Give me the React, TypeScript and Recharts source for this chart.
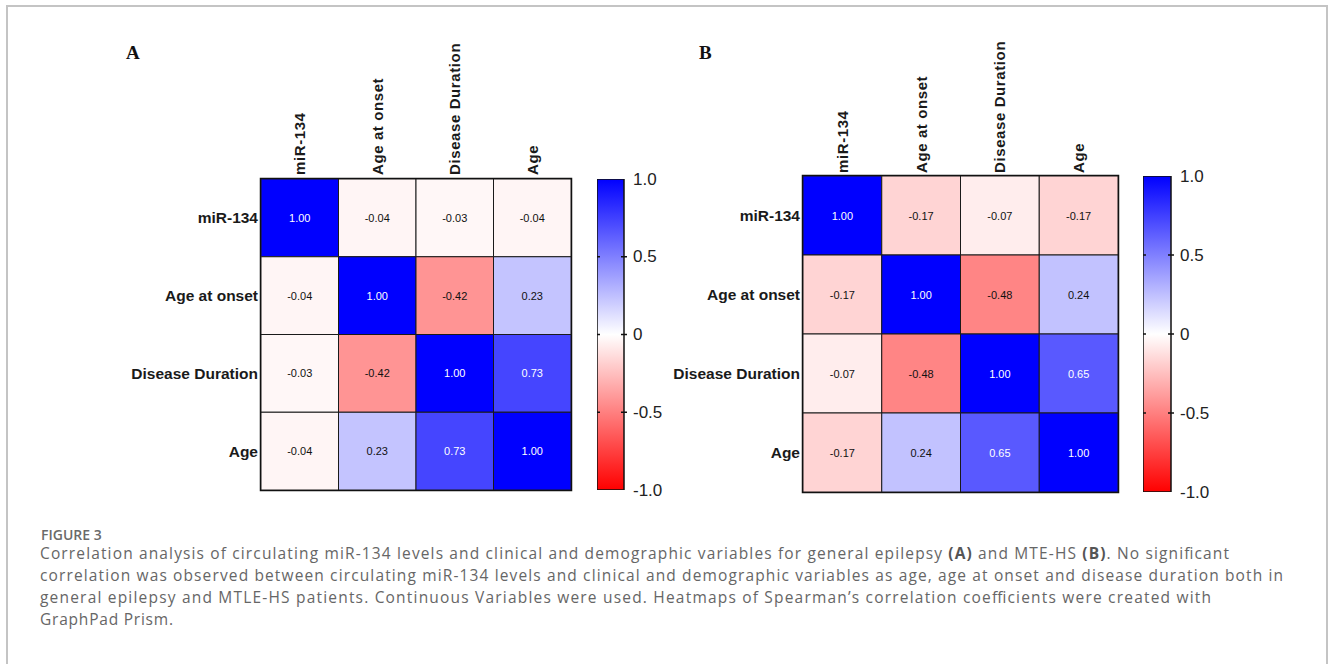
import React from "react";
import {
  ScatterChart,
  Scatter,
  XAxis,
  YAxis,
  ReferenceArea,
  BarChart,
  Bar,
} from "recharts";

// ---------- data ----------
const variables = ["miR-134", "Age at onset", "Disease Duration", "Age"];

const epilepsyMiR134 = [1.0, -0.04, -0.03, -0.04];
const epilepsyAgeOnset = [-0.04, 1.0, -0.42, 0.23];
const epilepsyDuration = [-0.03, -0.42, 1.0, 0.73];
const epilepsyAge = [-0.04, 0.23, 0.73, 1.0];

const mtleMiR134 = [1.0, -0.17, -0.07, -0.17];
const mtleAgeOnset = [-0.17, 1.0, -0.48, 0.24];
const mtleDuration = [-0.07, -0.48, 1.0, 0.65];
const mtleAge = [-0.17, 0.24, 0.65, 1.0];

const colorTicks = [-1, -0.5, 0, 0.5, 1];
const colorTickLabels = ["-1.0", "-0.5", "0", "0.5", "1.0"];

const panelLetters = ["A", "B"];
const figureLabel = "FIGURE 3";

// ---------- helpers ----------
const SANS = "'Liberation Sans', Arial, Helvetica, sans-serif";

function colorFor(v: number): string {
  if (v >= 0) {
    const c = Math.round(255 * (1 - v));
    return `rgb(${c},${c},255)`;
  }
  const c = Math.round(255 * (1 + v));
  return `rgb(255,${c},${c})`;
}

const cellTicks = [0.5, 1.5, 2.5, 3.5];

function buildData(rows: number[][]) {
  const out: { x: number; y: number; v: number }[] = [];
  rows.forEach((row, r) => {
    row.forEach((v, c) => {
      out.push({ x: c + 0.5, y: r + 0.5, v });
    });
  });
  return out;
}

const ColTick = (props: any) => {
  const { x, y, payload, gap } = props;
  const label = variables[Math.floor(payload.value)];
  const ty = y - gap;
  return (
    <text
      x={x}
      y={ty}
      transform={`rotate(-90 ${x} ${ty})`}
      textAnchor="start"
      dominantBaseline="central"
      fontFamily={SANS}
      fontWeight="bold"
      fontSize={15}
      fill="#1a1a1a"
      letterSpacing={0.6}
    >
      {label}
    </text>
  );
};

const RowTick = (props: any) => {
  const { x, y, payload } = props;
  const label = variables[Math.floor(payload.value)];
  return (
    <text
      x={x - 3}
      y={y}
      textAnchor="end"
      dominantBaseline="central"
      fontFamily={SANS}
      fontWeight="bold"
      fontSize={15.5}
      fill="#1a1a1a"
    >
      {label}
    </text>
  );
};

function Heatmap(props: {
  rows: number[][];
  gx: number;
  gy: number;
  gw: number;
  gh: number;
  gap: number;
}) {
  const { rows, gx, gy, gw, gh, gap } = props;
  const axisW = 160;
  const axisH = 160;
  const data = buildData(rows);
  const cw = gw / 4;
  const ch = gh / 4;
  const shape = (p: any) => {
    const { cx, cy, payload } = p;
    const v = payload.v as number;
    return (
      <g>
        <rect
          x={cx - cw / 2}
          y={cy - ch / 2}
          width={cw}
          height={ch}
          fill={colorFor(v)}
          stroke="#1a1a1a"
          strokeWidth={1}
        />
        <text
          x={cx}
          y={cy}
          textAnchor="middle"
          dominantBaseline="central"
          fontFamily={SANS}
          fontSize={11}
          fill={v > 0.5 ? "#ffffff" : "#111111"}
        >
          {v.toFixed(2)}
        </text>
      </g>
    );
  };
  return (
    <div style={{ position: "absolute", left: gx - axisW, top: gy - axisH }}>
      <ScatterChart
        width={axisW + gw + 6}
        height={axisH + gh + 6}
        margin={{ top: 0, left: 0, right: 6, bottom: 6 }}
      >
        <XAxis
          type="number"
          dataKey="x"
          domain={[0, 4]}
          ticks={cellTicks}
          orientation="top"
          height={axisH}
          axisLine={false}
          tickLine={false}
          tickSize={0}
          tickMargin={0}
          interval={0}
          allowDataOverflow
          tick={<ColTick gap={gap} />}
        />
        <YAxis
          type="number"
          dataKey="y"
          domain={[0, 4]}
          reversed
          ticks={cellTicks}
          width={axisW}
          axisLine={false}
          tickLine={false}
          tickSize={0}
          tickMargin={0}
          interval={0}
          allowDataOverflow
          tick={<RowTick />}
        />
        <Scatter data={data} isAnimationActive={false} shape={shape} />
        <ReferenceArea
          x1={0}
          x2={4}
          y1={0}
          y2={4}
          fill="none"
          fillOpacity={0}
          stroke="#111"
          strokeWidth={2.5}
          strokeOpacity={1}
          ifOverflow="visible"
        />
      </ScatterChart>
    </div>
  );
}

const BarTick = (props: any) => {
  const { x, y, payload, bw } = props;
  const idx = colorTicks.indexOf(payload.value);
  const label = colorTickLabels[idx];
  const inner = payload.value !== -1 && payload.value !== 1;
  return (
    <g>
      {inner && (
        <line x1={x - bw - 3} x2={x - bw + 3} y1={y} y2={y} stroke="#111" strokeWidth={1.5} />
      )}
      {inner && <line x1={x - 3} x2={x + 3} y1={y} y2={y} stroke="#111" strokeWidth={1.5} />}
      <text
        x={x + 9}
        y={y}
        dominantBaseline="central"
        fontFamily={SANS}
        fontSize={17}
        fill="#222"
      >
        {label}
      </text>
    </g>
  );
};

function ColorBar(props: { bx: number; by: number; bw: number; bh: number; id: string }) {
  const { bx, by, bw, bh, id } = props;
  const mt = 12;
  const mb = 12;
  const rightW = 60;
  const barData = [{ name: "scale", range: [colorTicks[0], colorTicks[colorTicks.length - 1]] }];
  return (
    <div style={{ position: "absolute", left: bx, top: by - mt }}>
      <BarChart
        width={bw + rightW}
        height={bh + mt + mb}
        data={barData}
        margin={{ top: mt, bottom: mb, left: 0, right: 0 }}
        barCategoryGap={0}
        barGap={0}
      >
        <defs>
          <linearGradient id={id} x1="0" y1="0" x2="0" y2="1">
            <stop offset="0%" stopColor="#0000ff" />
            <stop offset="50%" stopColor="#ffffff" />
            <stop offset="100%" stopColor="#ff0000" />
          </linearGradient>
        </defs>
        <XAxis dataKey="name" hide />
        <YAxis
          type="number"
          orientation="right"
          width={rightW}
          domain={[-1, 1]}
          ticks={colorTicks}
          axisLine={false}
          tickLine={false}
          tickSize={0}
          tickMargin={0}
          interval={0}
          allowDataOverflow
          tick={<BarTick bw={bw} />}
        />
        <Bar
          dataKey="range"
          fill={`url(#${id})`}
          stroke="#111"
          strokeWidth={1.5}
          isAnimationActive={false}
        />
      </BarChart>
    </div>
  );
}

const CAPTION_FONT = "'Open Sans', 'Noto Sans', sans-serif";

export default function App() {
  return (
    <div
      style={{
        position: "absolute",
        left: 0,
        top: 0,
        width: 1330,
        height: 664,
        overflow: "hidden",
        background: "#fff",
      }}
    >
      <div
        style={{
          position: "absolute",
          left: 6,
          top: 5,
          width: 1322,
          height: 720,
          border: "2px solid #c4c4c4",
          boxSizing: "border-box",
        }}
      />
      <Heatmap
        rows={[epilepsyMiR134, epilepsyAgeOnset, epilepsyDuration, epilepsyAge]}
        gx={261}
        gy={179}
        gw={310}
        gh={311}
        gap={4}
      />
      <ColorBar bx={597} by={179} bw={27} bh={311} id="gradA" />
      <Heatmap
        rows={[mtleMiR134, mtleAgeOnset, mtleDuration, mtleAge]}
        gx={803}
        gy={176}
        gw={315}
        gh={316}
        gap={3}
      />
      <ColorBar bx={1143} by={176} bw={28} bh={316} id="gradB" />
      <svg
        width={1330}
        height={664}
        style={{ position: "absolute", left: 0, top: 0, pointerEvents: "none" }}
      >
        <text
          x={126}
          y={59}
          fontFamily="'Liberation Serif', 'Times New Roman', serif"
          fontWeight="bold"
          fontSize={19}
          fill="#111"
        >
          {panelLetters[0]}
        </text>
        <text
          x={699}
          y={59}
          fontFamily="'Liberation Serif', 'Times New Roman', serif"
          fontWeight="bold"
          fontSize={19}
          fill="#111"
        >
          {panelLetters[1]}
        </text>
        <text x={41} y={540} fontFamily={CAPTION_FONT} fontWeight={600} fontSize={14} fill="#6a6a6a">
          {figureLabel}
        </text>
        <text
          x={40}
          y={559}
          fontFamily={CAPTION_FONT}
          fontSize={15.5}
          fill="#666"
          textLength={1189}
          lengthAdjust="spacing"
        >
          Correlation analysis of circulating miR-134 levels and clinical and demographic variables for general epilepsy{" "}
          <tspan fontWeight="bold" fill="#555">(A)</tspan> and MTE-HS{" "}
          <tspan fontWeight="bold" fill="#555">(B)</tspan>. No significant
        </text>
        <text
          x={40}
          y={581}
          fontFamily={CAPTION_FONT}
          fontSize={15.5}
          fill="#666"
          textLength={1243}
          lengthAdjust="spacing"
        >
          correlation was observed between circulating miR-134 levels and clinical and demographic variables as age, age at onset and disease duration both in
        </text>
        <text
          x={40}
          y={603}
          fontFamily={CAPTION_FONT}
          fontSize={15.5}
          fill="#666"
          textLength={1171}
          lengthAdjust="spacing"
        >
          general epilepsy and MTLE-HS patients. Continuous Variables were used. Heatmaps of Spearman’s correlation coefficients were created with
        </text>
        <text
          x={40}
          y={625}
          fontFamily={CAPTION_FONT}
          fontSize={15.5}
          fill="#666"
          textLength={133}
          lengthAdjust="spacing"
        >
          GraphPad Prism.
        </text>
      </svg>
    </div>
  );
}
